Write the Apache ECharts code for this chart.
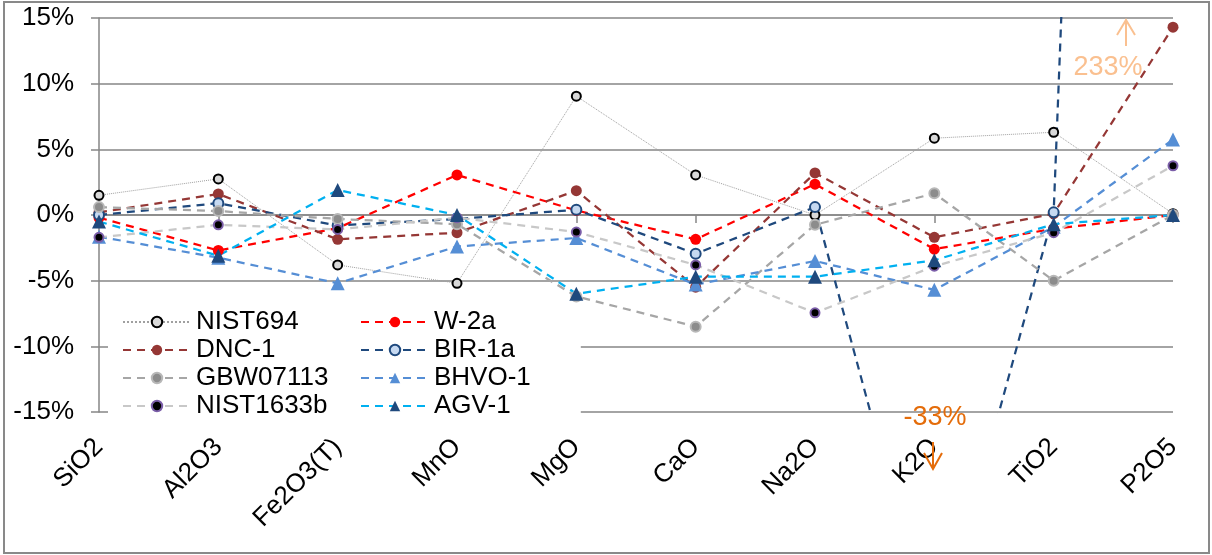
<!DOCTYPE html>
<html>
<head>
<meta charset="utf-8">
<script src="https://cdn.jsdelivr.net/npm/echarts@6/dist/echarts.min.js"></script>
<style>
html,body{margin:0;padding:0;background:#fff;}
#c{width:1212px;height:555px;}
</style>
</head>
<body>
<div id="c"></div>
<script>
const categories = ['SiO2','Al2O3','Fe2O3(T)','MnO','MgO','CaO','Na2O','K2O','TiO2','P2O5'];
const yTicks = [-15, -10, -5, 0, 5, 10, 15];

const NIST694   = [1.5, 2.75, -3.8, -5.2, 9.05, 3.05, 0.0, 5.85, 6.3, 0.1];
const W2a       = [-0.2, -2.7, -1.0, 3.05, 0.35, -1.85, 2.35, -2.6, -1.05, 0.0];
const DNC1      = [0.2, 1.6, -1.85, -1.35, 1.85, -5.5, 3.2, -1.7, 0.1, 14.3];
const BIR1a     = [0.0, 0.9, -0.8, -0.3, 0.4, -2.95, 0.6, -33, 0.2, 233];
const GBW07113  = [0.6, 0.3, -0.3, -0.7, -6.2, -8.5, -0.75, 1.65, -5.0, 0.0];
const BHVO1     = [-1.65, -3.25, -5.2, -2.4, -1.75, -5.3, -3.5, -5.7, -0.9, 5.75];
const NIST1633b = [-1.7, -0.75, -1.1, -0.2, -1.3, -3.8, -7.45, -3.9, -1.35, 3.75];
const AGV1      = [-0.5, -3.1, 1.9, 0.0, -6.0, -4.7, -4.7, -3.45, -0.7, 0.0];

const FONT = 'Liberation Sans, Arial, sans-serif';
const dash = [8, 6];

function mk(name, data, lineColor, lineType, lineWidth, symbol, size, fill, border, bw) {
  return {
    name, type: 'line', data, xAxisIndex: 0, yAxisIndex: 0,
    symbol, symbolSize: size, showAllSymbol: true, clip: true,
    lineStyle: { color: lineColor, type: lineType, width: lineWidth },
    itemStyle: { color: fill, borderColor: border, borderWidth: bw },
    emphasis: { disabled: true },
    animation: false
  };
}

const series = [
  mk('NIST694', NIST694, '#a0a0a0', 'dotted', 1, 'circle', 9, '#d9d9d9', '#000000', 2),
  mk('W-2a', W2a, '#ff0000', dash, 2.25, 'circle', 11, '#ff0000', '#ff0000', 0),
  mk('DNC-1', DNC1, '#953735', dash, 2.25, 'circle', 11, '#953735', '#953735', 0),
  mk('BIR-1a', BIR1a, '#1f497d', dash, 2.25, 'circle', 10, '#c6d9f1', '#1f497d', 2),
  mk('GBW07113', GBW07113, '#a6a6a6', dash, 2.25, 'circle', 10, '#8c8c8c', '#b8b8b8', 2),
  mk('BHVO-1', BHVO1, '#558ed5', dash, 2.25, 'triangle', 14, '#558ed5', '#558ed5', 0),
  mk('NIST1633b', NIST1633b, '#c8c8c8', dash, 2.25, 'circle', 9, '#000000', '#7b5ea8', 2),
  mk('AGV-1', AGV1, '#00b0f0', dash, 2.25, 'triangle', 14, '#1f497d', '#1f497d', 0)
];

const chart = echarts.init(document.getElementById('c'), null, { renderer: 'canvas' });
const legendText = { fontFamily: FONT, fontSize: 26, color: '#000', lineHeight: 28 };
chart.setOption({
  animation: false,
  backgroundColor: '#fff',
  grid: { left: 99, right: 39, top: 18, bottom: 143, containLabel: false },
  xAxis: [
    {
      type: 'category', data: categories, boundaryGap: false, position: 'bottom',
      axisLine: { show: false, onZero: false }, axisTick: { show: false },
      axisLabel: { rotate: 45, fontFamily: FONT, fontSize: 26, color: '#000', margin: 31, interval: 0 },
      splitLine: { show: false }
    },
    {
      type: 'category', data: categories, boundaryGap: false, position: 'bottom',
      axisLine: { show: true, onZero: true, lineStyle: { color: '#868686', width: 1.5 } },
      axisTick: { show: true, inside: false, length: 8, interval: 0, lineStyle: { color: '#868686', width: 1.5 } },
      axisLabel: { show: false }, splitLine: { show: false }
    }
  ],
  yAxis: {
    type: 'value', min: yTicks[0], max: yTicks[yTicks.length - 1], interval: 5,
    axisLine: { show: true, lineStyle: { color: '#868686', width: 1.5 } },
    axisTick: { show: true, length: 8, lineStyle: { color: '#868686', width: 1.5 } },
    axisLabel: { fontFamily: FONT, fontSize: 26, color: '#000', margin: 25, formatter: v => v + '%' },
    splitLine: { show: true, lineStyle: { color: '#868686', width: 1.5 } }
  },
  legend: [
    {
      data: ['NIST694', 'DNC-1', 'GBW07113', 'NIST1633b'], orient: 'vertical',
      left: 108, top: 305, padding: [3, 20, 3, 14], itemGap: 0, itemWidth: 68, itemHeight: 13,
      backgroundColor: '#fff', textStyle: legendText, selectedMode: false
    },
    {
      data: ['W-2a', 'BIR-1a', 'BHVO-1', 'AGV-1'], orient: 'vertical',
      left: 340, top: 305, padding: [3, 50, 3, 20], itemGap: 0, itemWidth: 68, itemHeight: 13,
      backgroundColor: '#fff', textStyle: legendText, selectedMode: false
    }
  ],
  graphic: [
    { type: 'rect', shape: { x: 4, y: 2, width: 1205, height: 551 }, style: { fill: 'none', stroke: '#898989', lineWidth: 2 }, z: 100, silent: true },
    { type: 'text', x: 1108, y: 68, style: { text: '233%', fill: '#fac090', font: '27px ' + FONT, textAlign: 'center', textVerticalAlign: 'middle' }, z: 100 },
    { type: 'polyline', shape: { points: [[1126, 46], [1126, 20]] }, style: { stroke: '#fac090', lineWidth: 2, fill: 'none' }, z: 100 },
    { type: 'polyline', shape: { points: [[1117, 35], [1126, 20], [1135, 35]] }, style: { stroke: '#fac090', lineWidth: 2, fill: 'none' }, z: 100 },
    { type: 'text', x: 935, y: 418, style: { text: '-33%', fill: '#e46c0a', font: '27px ' + FONT, textAlign: 'center', textVerticalAlign: 'middle' }, z: 100 },
    { type: 'polyline', shape: { points: [[933, 442], [933, 469]] }, style: { stroke: '#e46c0a', lineWidth: 2, fill: 'none' }, z: 100 },
    { type: 'polyline', shape: { points: [[924, 453], [933, 469], [942, 453]] }, style: { stroke: '#e46c0a', lineWidth: 2, fill: 'none' }, z: 100 }
  ],
  series
});
</script>
</body>
</html>
